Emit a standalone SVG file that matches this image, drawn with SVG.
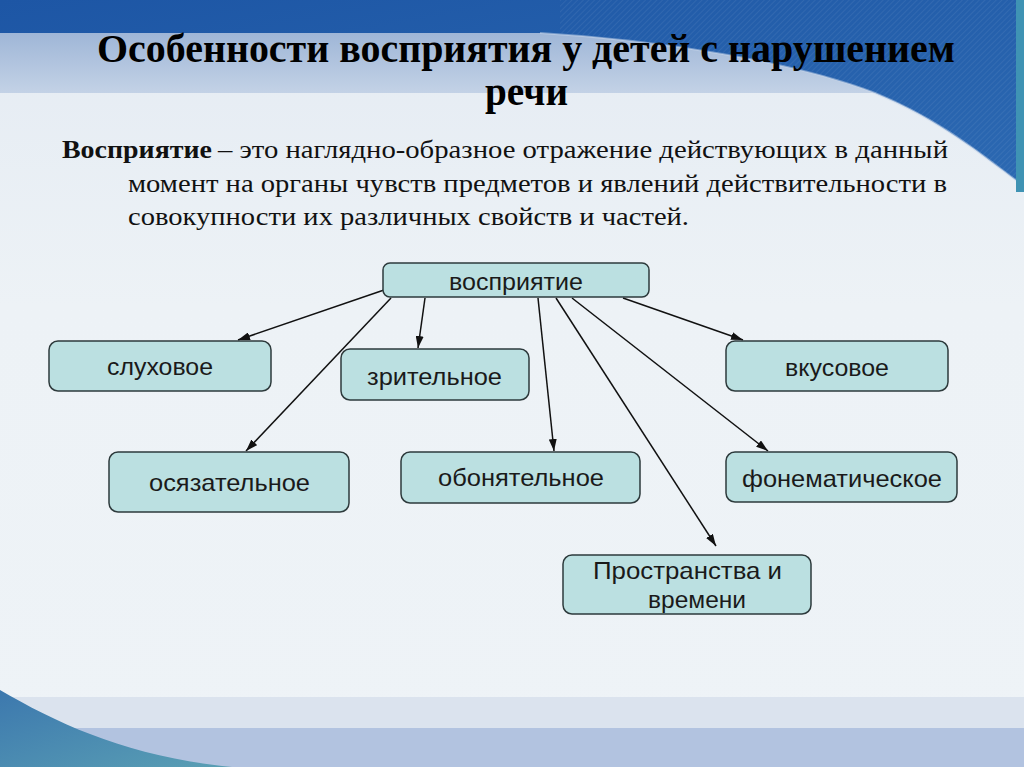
<svg xmlns="http://www.w3.org/2000/svg" width="1024" height="767" viewBox="0 0 1024 767">
<defs>
<linearGradient id="bg" x1="0" y1="0" x2="0" y2="1">
<stop offset="0" stop-color="#e4ebf3"/>
<stop offset="0.4" stop-color="#edf2f6"/>
<stop offset="1" stop-color="#eef3f7"/>
</linearGradient>
<linearGradient id="topband" x1="0" y1="0" x2="1" y2="0">
<stop offset="0" stop-color="#1f54a3"/>
<stop offset="0.3" stop-color="#3a6db7"/>
<stop offset="0.5" stop-color="#2459a8"/>
<stop offset="1" stop-color="#1d59a6"/>
</linearGradient>
<linearGradient id="midband" x1="0" y1="0" x2="0" y2="1">
<stop offset="0" stop-color="#9fb6d7"/>
<stop offset="1" stop-color="#c3d2e6"/>
</linearGradient>
<linearGradient id="swoop" x1="0" y1="0" x2="1" y2="1">
<stop offset="0" stop-color="#1d56a5"/>
<stop offset="1" stop-color="#2c69b2"/>
</linearGradient>
<linearGradient id="blswoop" x1="0" y1="0" x2="1" y2="1">
<stop offset="0" stop-color="#3c78ae"/>
<stop offset="1" stop-color="#5a9fb4"/>
</linearGradient>
<pattern id="hatch" width="4" height="4" patternUnits="userSpaceOnUse" patternTransform="rotate(45)">
<line x1="0" y1="0" x2="0" y2="4" stroke="#ffffff" stroke-opacity="0.12" stroke-width="1"/>
</pattern>
<marker id="arr" viewBox="0 0 12 8" refX="12" refY="4" markerWidth="12" markerHeight="8" markerUnits="userSpaceOnUse" orient="auto">
<path d="M0 0 L12 4 L0 8 Z" fill="#111"/>
</marker>
<style>
.box{fill:#bbe0e1;stroke:#2d3a3c;stroke-width:1.5}
.lbl{font-family:"Liberation Sans",Arial,sans-serif;font-size:24px;fill:#1a1a1a;text-anchor:start}
.con{stroke:#111;stroke-width:1.5;fill:none;marker-end:url(#arr)}
.title{font-family:"Liberation Serif","Times New Roman",serif;font-weight:bold;font-size:40px;fill:#000}
.body{font-family:"Liberation Serif","Times New Roman",serif;font-size:25px;fill:#111}
</style>
</defs>

<g id="background">
<rect x="0" y="0" width="1024" height="767" fill="url(#bg)"/>
<rect x="0" y="33" width="1024" height="60" fill="url(#midband)"/>
<path d="M0 0 H1024 V186 C985 158 945 122 875 93 C795 62 660 40 540 33 H0 Z" fill="url(#swoop)"/>
<path d="M560 0 H1024 V186 C985 158 945 122 875 93 C795 62 660 40 560 33 Z" fill="url(#hatch)"/>
<path d="M1024 186 C985 158 945 122 875 93 C795 62 660 40 540 33" fill="none" stroke="#c9d8ec" stroke-opacity="0.5" stroke-width="2"/>
<rect x="1016" y="0" width="8" height="192" fill="#3f93b4"/>
<rect x="0" y="697" width="1024" height="31" fill="#dbe3ee"/>
<rect x="0" y="728" width="1024" height="39" fill="#b2c3e0"/>
<path d="M0 690 C60 725 130 757 232 767 H0 Z" fill="url(#blswoop)"/>
</g>

<g id="title">
<text class="title" x="97" y="62" textLength="858" lengthAdjust="spacingAndGlyphs">Особенности восприятия у детей с нарушением</text>
<text class="title" x="485" y="105" textLength="83" lengthAdjust="spacingAndGlyphs">речи</text>
</g>

<g id="definition">
<text class="body" x="62" y="158" font-weight="bold" textLength="150" lengthAdjust="spacingAndGlyphs">Восприятие</text>
<text class="body" x="218" y="158" textLength="730" lengthAdjust="spacingAndGlyphs">– это наглядно-образное отражение действующих в данный</text>
<text class="body" x="128" y="192" textLength="819" lengthAdjust="spacingAndGlyphs">момент на органы чувств предметов и явлений действительности в</text>
<text class="body" x="128" y="225" textLength="561" lengthAdjust="spacingAndGlyphs">совокупности их различных свойств и частей.</text>
</g>

<g id="connectors">
<line class="con" x1="384" y1="290" x2="238" y2="340"/>
<line class="con" x1="391" y1="298" x2="246" y2="451"/>
<line class="con" x1="425" y1="298" x2="418" y2="348"/>
<line class="con" x1="538" y1="298" x2="554" y2="451"/>
<line class="con" x1="556" y1="298" x2="716" y2="546"/>
<line class="con" x1="572" y1="298" x2="768" y2="451"/>
<line class="con" x1="623" y1="298" x2="743" y2="340"/>
</g>

<g id="node-vospriyatie">
<rect class="box" x="383" y="263" width="266" height="34" rx="7"/>
<text class="lbl" x="449" y="290" textLength="134" lengthAdjust="spacingAndGlyphs">восприятие</text>
</g>
<g id="node-sluhovoe">
<rect class="box" x="49" y="341" width="222" height="50" rx="9"/>
<text class="lbl" x="107" y="375" textLength="106" lengthAdjust="spacingAndGlyphs">слуховое</text>
</g>
<g id="node-zritelnoe">
<rect class="box" x="341" y="349" width="188" height="51" rx="9"/>
<text class="lbl" x="367" y="385" textLength="135" lengthAdjust="spacingAndGlyphs">зрительное</text>
</g>
<g id="node-vkusovoe">
<rect class="box" x="726" y="341" width="222" height="50" rx="9"/>
<text class="lbl" x="785" y="376" textLength="104" lengthAdjust="spacingAndGlyphs">вкусовое</text>
</g>
<g id="node-osyazatelnoe">
<rect class="box" x="109" y="452" width="240" height="60" rx="9"/>
<text class="lbl" x="149" y="491" textLength="161" lengthAdjust="spacingAndGlyphs">осязательное</text>
</g>
<g id="node-obonyatelnoe">
<rect class="box" x="401" y="452" width="239" height="51" rx="9"/>
<text class="lbl" x="438" y="486" textLength="166" lengthAdjust="spacingAndGlyphs">обонятельное</text>
</g>
<g id="node-fonematicheskoe">
<rect class="box" x="726" y="452" width="231" height="50" rx="9"/>
<text class="lbl" x="742" y="487" textLength="200" lengthAdjust="spacingAndGlyphs">фонематическое</text>
</g>
<g id="node-prostranstva">
<rect class="box" x="563" y="555" width="248" height="59" rx="9"/>
<text class="lbl" x="593" y="579" textLength="189" lengthAdjust="spacingAndGlyphs">Пространства и</text>
<text class="lbl" x="648" y="608" textLength="98" lengthAdjust="spacingAndGlyphs">времени</text>
</g>
</svg>
